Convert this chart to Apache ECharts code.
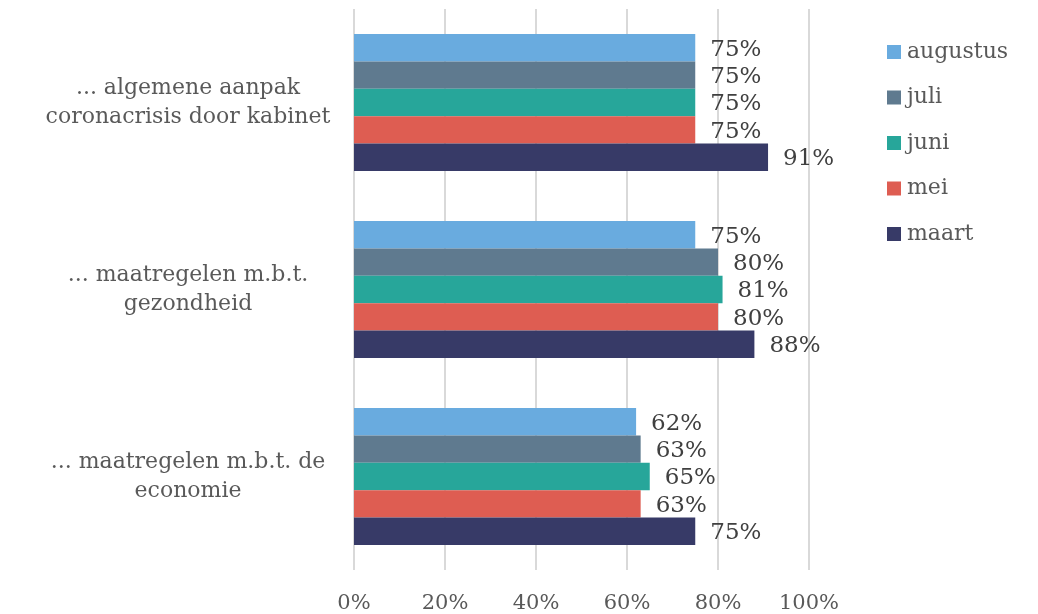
<!DOCTYPE html>
<html>
<head>
<meta charset="utf-8">
<script src="https://cdn.jsdelivr.net/npm/echarts@6/dist/echarts.min.js"></script>
<style>
html,body{margin:0;padding:0;background:#fff;}
#chart{width:1038px;height:614px;}
</style>
</head>
<body>
<div id="chart"></div>
<script>
// Categories listed bottom-to-top
var categories = [
  '... maatregelen m.b.t. de\neconomie',
  '... maatregelen m.b.t.\ngezondheid',
  '... algemene aanpak\ncoronacrisis door kabinet'
];
// Series listed top-to-bottom within each category
var seriesNames = ['augustus', 'juli', 'juni', 'mei', 'maart'];
var maart = [75, 88, 91];
var mei = [63, 80, 75];
var juni = [65, 81, 75];
var juli = [63, 80, 75];
var augustus = [62, 75, 75];
var xTicks = [0, 20, 40, 60, 80, 100];
var legendOrder = ['augustus', 'juli', 'juni', 'mei', 'maart'];

var colors = {
  maart: '#373A67',
  mei: '#DE5D52',
  juni: '#27A69A',
  juli: '#5F7A8F',
  augustus: '#69ABDF'
};
var values = {maart: maart, mei: mei, juni: juni, juli: juli, augustus: augustus};
var FONT = 'DejaVu Serif';

var chart = echarts.init(document.getElementById('chart'), null, {renderer: 'canvas'});
var series = seriesNames.map(function (n) {
  return {
    name: n,
    type: 'bar',
    data: values[n],
    barCategoryGap: '26.7%',
    barGap: '0%',
    itemStyle: {color: colors[n]},
    label: {
      show: true,
      position: 'right',
      distance: 15,
      offset: [0, 2],
      formatter: '{c}%',
      color: '#404040',
      fontSize: 23,
      fontFamily: FONT
    }
  };
});

chart.setOption({
  animation: false,
  backgroundColor: '#fff',
  grid: {left: 354, right: 1038 - 809, top: 9, bottom: 614 - 571, containLabel: false},
  legend: {
    orient: 'vertical',
    left: 882,
    top: 36,
    data: legendOrder,
    itemWidth: 14,
    itemHeight: 14,
    itemGap: 23.5,
    icon: 'rect',
    textStyle: {color: '#595959', fontSize: 22, fontFamily: FONT, padding: [0, 0, 0, 1]}
  },
  xAxis: {
    type: 'value',
    min: xTicks[0],
    max: xTicks[xTicks.length - 1],
    interval: 20,
    axisLine: {show: false},
    axisTick: {show: false},
    splitLine: {lineStyle: {color: '#D9D9D9', width: 2}},
    axisLabel: {
      formatter: '{value}%',
      color: '#595959',
      fontSize: 21,
      fontFamily: FONT,
      margin: 23
    }
  },
  yAxis: {
    type: 'category',
    data: categories,
    axisLine: {show: false},
    axisTick: {show: false},
    axisLabel: {
      align: 'center',
      margin: 166,
      color: '#595959',
      fontSize: 22,
      lineHeight: 29,
      fontFamily: FONT
    }
  },
  series: series
});
</script>
</body>
</html>
